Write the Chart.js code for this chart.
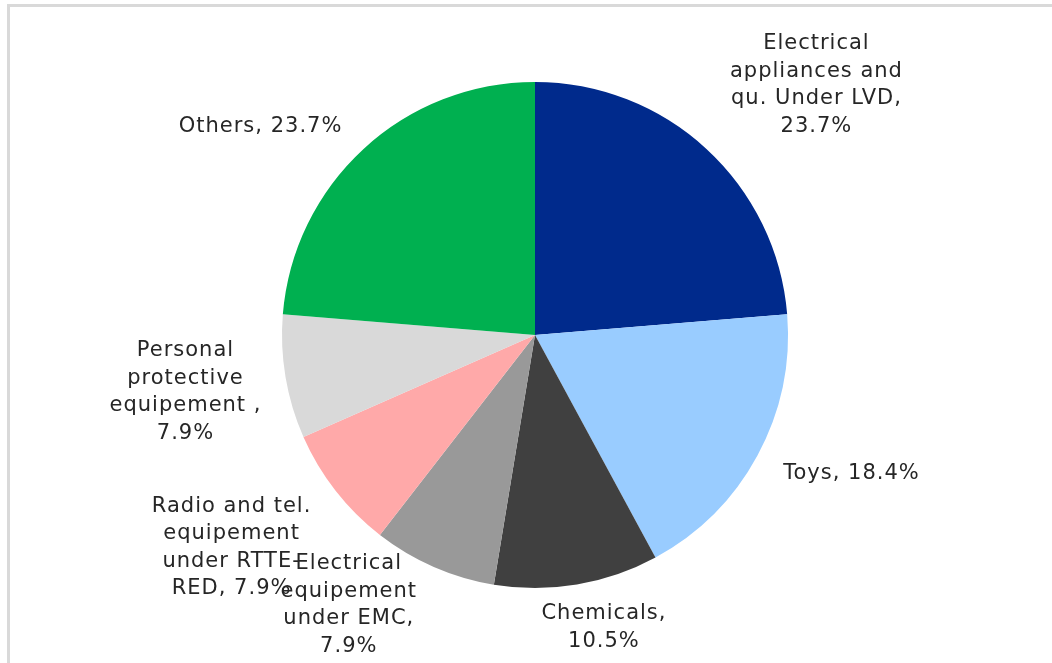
<!DOCTYPE html>
<html>
<head>
<meta charset="utf-8">
<script src="https://cdn.jsdelivr.net/npm/chart.js@4"></script>
<style>
  html, body { margin: 0; padding: 0; background: #fff; }
  #wrap { position: relative; width: 1052px; height: 663px; }
  #frame { position: absolute; left: 7px; top: 4px; right: 0; bottom: 0;
           border-left: 3px solid #d9d9d9; border-top: 3px solid #d9d9d9; pointer-events: none; }
  canvas { display: block; }
</style>
</head>
<body>
<div id="wrap">
  <canvas id="c" width="1052" height="663"></canvas>
  <div id="frame"></div>
</div>
<script>
const categories = [
  ["Electrical", "appliances and", "qu. Under LVD,"],
  ["Toys,"],
  ["Chemicals,"],
  ["Electrical", "equipement", "under EMC,"],
  ["Radio and tel.", "equipement", "under RTTE-", "RED,"],
  ["Personal", "protective", "equipement ,"],
  ["Others,"]
];
const values = [23.7, 18.4, 10.5, 7.9, 7.9, 7.9, 23.7];
const colors = ["#002A8C", "#99CCFF", "#404040", "#999999", "#FFA9A9", "#D9D9D9", "#00B050"];
// label placement nudges relative to each slice's outer mid-point (pixels)
const labelNudge = [[110, -64], [94, 18], [27, 43], [-85, 38], [-104, 57], [-100, 15], [-103, -22]];

function labelLines(i) {
  const cat = categories[i].slice();
  const pct = values[i].toFixed(1) + "%";
  const last = cat[cat.length - 1];
  if (i === 1 || i === 6 || i === 4) { cat[cat.length - 1] = last + " " + pct; return cat; }
  cat.push(pct);
  return cat;
}

const labelPlugin = {
  id: 'sliceLabels',
  afterDraw(chart) {
    const ctx = chart.ctx;
    const meta = chart.getDatasetMeta(0);
    ctx.save();
    ctx.font = '21px "DejaVu Sans", Verdana, sans-serif';
    if ('letterSpacing' in ctx) ctx.letterSpacing = '1px';
    ctx.fillStyle = '#262626';
    ctx.textAlign = 'center';
    ctx.textBaseline = 'middle';
    const lh = 27.5;
    meta.data.forEach((arc, i) => {
      const p = arc.getProps(['x', 'y', 'startAngle', 'endAngle', 'outerRadius'], true);
      const mid = (p.startAngle + p.endAngle) / 2;
      const ax = p.x + Math.cos(mid) * p.outerRadius + labelNudge[i][0];
      const ay = p.y + Math.sin(mid) * p.outerRadius + labelNudge[i][1];
      const lines = labelLines(i);
      const top = ay - (lines.length - 1) * lh / 2;
      lines.forEach((t, k) => ctx.fillText(t, ax, top + k * lh));
    });
    ctx.restore();
  }
};

new Chart(document.getElementById('c'), {
  type: 'pie',
  data: {
    labels: categories.map(c => c.join(' ')),
    datasets: [{
      data: values,
      backgroundColor: colors,
      borderWidth: 0
    }]
  },
  options: {
    responsive: false,
    animation: false,
    layout: { padding: { left: 282, right: 264, top: 82, bottom: 75 } },
    plugins: {
      legend: { display: false },
      tooltip: { enabled: false }
    }
  },
  plugins: [labelPlugin]
});
</script>
</body>
</html>
